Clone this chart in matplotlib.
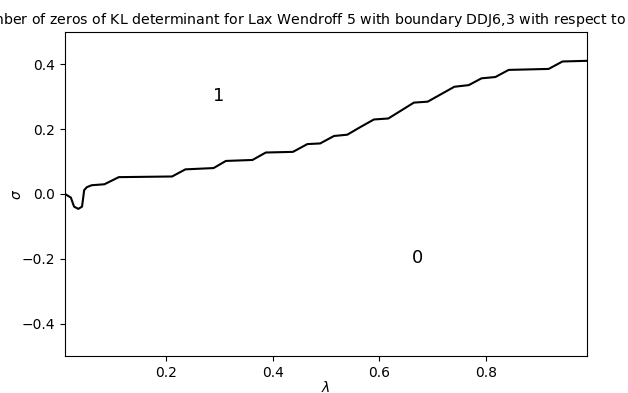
import matplotlib
matplotlib.use("Agg")
import matplotlib.pyplot as plt

# boundary curve between the "1 zero" and "0 zero" regions
lam = [0.01, 0.021, 0.027, 0.035, 0.042, 0.046, 0.051, 0.060, 0.084, 0.111,
       0.211, 0.236, 0.289, 0.312, 0.362, 0.387, 0.438, 0.465, 0.489, 0.515,
       0.540, 0.565, 0.590, 0.617, 0.665, 0.691, 0.741, 0.768, 0.792, 0.818,
       0.843, 0.918, 0.944, 0.99]
sigma = [0.0, -0.011, -0.039, -0.046, -0.039, 0.012, 0.021, 0.027, 0.030, 0.052,
         0.054, 0.076, 0.080, 0.102, 0.105, 0.128, 0.130, 0.154, 0.156, 0.179,
         0.183, 0.207, 0.230, 0.233, 0.282, 0.285, 0.331, 0.336, 0.357, 0.361,
         0.383, 0.386, 0.409, 0.411]

region_labels = ["1", "0"]
region_pos = [(0.299, 0.303), (0.672, -0.198)]

fig = plt.figure(figsize=(6.28, 3.93), dpi=100)
ax = fig.add_axes([0.1035, 0.0942, 0.8312, 0.8244])
ax.plot(lam, sigma, color="black", lw=1.5)
for t, (x, y) in zip(region_labels, region_pos):
    ax.text(x, y, t, fontsize=13, ha="center", va="center")
ax.set_xlim(0.01, 0.99)
ax.set_ylim(-0.5, 0.5)
ax.set_xticks([0.2, 0.4, 0.6, 0.8])
ax.set_yticks([-0.4, -0.2, 0.0, 0.2, 0.4])
ax.set_xlabel(r"$\lambda$", labelpad=0.3)
ax.set_ylabel(r"$\sigma$", labelpad=-1.5)
ax.set_title(r"Number of zeros of KL determinant for Lax Wendroff 5 with boundary DDJ6,3 with respect to $\lambda$",
             fontsize=10.2, x=0.458)
fig.savefig("out.png")
